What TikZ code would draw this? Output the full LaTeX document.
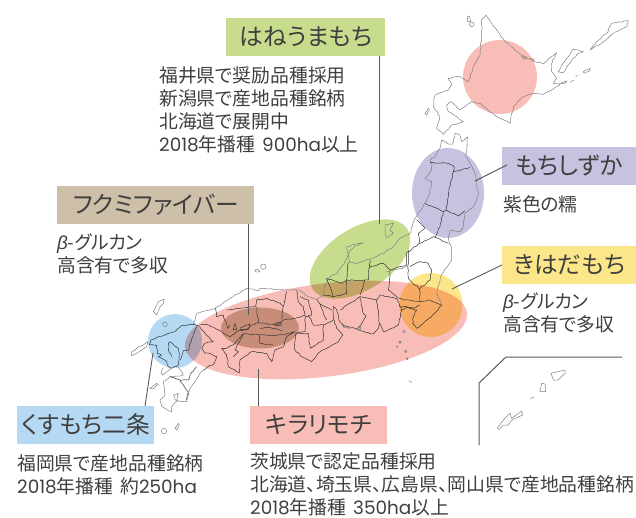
\documentclass[tikz,border=0pt]{standalone}
\usepackage{fontspec}
\setmainfont[RawFeature=+palt]{Noto Sans CJK JP}
\newfontfamily\latinpart{Poppins}
\newfontfamily\betapart{Liberation Sans}
\usetikzlibrary{shapes.geometric, positioning, decorations.pathmorphing}
\definecolor{inkText}{HTML}{3F3F3F}
\definecolor{inkLeader}{HTML}{5A5A5A}
\definecolor{kirariPink}{HTML}{F9BDB8}
\definecolor{hanePink}{HTML}{F9BDB8}
\definecolor{haneGreen}{HTML}{C7DC8C}
\definecolor{mochiPurple}{HTML}{C6C3E0}
\definecolor{kihadaYellow}{HTML}{FCE68A}
\definecolor{kusuBlue}{HTML}{B5D9F3}
\definecolor{fukumiTan}{HTML}{CDBFA8}
\newcommand{\lat}[1]{{\latinpart\fontsize{18.4}{23}\selectfont #1}}
\newcommand{\glucan}{{\betapart\itshape β}-グルカン}
\tikzset{
    namebox/.style={rectangle, anchor=north west, inner sep=0pt, minimum height=37.5pt, text=inkText,
        font=\fontsize{23.7}{26}\selectfont},
    note/.style={anchor=north west, inner sep=0pt, align=left, text=inkText,
        font=\fontsize{18.8}{23}\selectfont},
    area/.style={ellipse, inner sep=0pt},
    leader/.style={draw=inkLeader, line width=0.9pt},
    rough/.style={decorate, decoration={random steps, segment length=2.6pt, amplitude=0.55pt}},
    isle/.style={draw=black!50, line width=0.5pt},
    coast/.style={isle, line join=round, rough},
    border/.style={draw=black!80, line width=0.5pt, line join=round, rough},
    zoomMain/.style={shift={(120,200)}, scale=0.33333},
    zoomNorth/.style={shift={(380,0)}, scale=0.33333},
    zoomKyushu/.style={shift={(125,285)}, scale=0.33333},
    zoomSouth/.style={shift={(440,340)}, scale=0.33333}
}
\begin{document}
\begin{tikzpicture}[x=1pt, y=-1pt]
    \pgfmathsetseed{7}
    \useasboundingbox (0,0) rectangle (636,518);

    % growing areas
    \begin{scope}[blend mode=multiply]
        \node[area, fill=hanePink, minimum width=74pt, minimum height=74pt] (areaHokkaido) at (500,77) {};
        \node[area, fill=mochiPurple, minimum width=72pt, minimum height=90pt] (areaTohoku) at (448,193) {};
        \node[area, fill=kirariPink, minimum width=284pt, minimum height=93pt, rotate=7] (areaKirari) at (326,330) {};
        \node[area, fill=haneGreen, minimum width=112pt, minimum height=62pt, rotate=32] (areaHane) at (360,259) {};
        \node[area, fill=kusuBlue, minimum width=54pt, minimum height=54pt] (areaKusu) at (175,341) {};
        \node[area, fill=fukumiTan, minimum width=78pt, minimum height=41pt] (areaFukumi) at (260,328) {};
        \node[area, fill=kihadaYellow, minimum width=63pt, minimum height=64pt] (areaKihada) at (431,305) {};
    \end{scope}

    % Hokkaido and Tohoku
    \begin{scope}[zoomNorth]
        \draw[coast] (305,60) -- (318,45) -- (330,65) -- (350,90) -- (375,125) -- (405,150) -- (440,175) -- (490,192)
            -- (515,170) -- (530,158) -- (515,190) -- (515,215) -- (530,235) -- (520,250) -- (540,255) -- (515,270)
            -- (490,283) -- (460,280) -- (430,290) -- (400,320) -- (390,370) -- (350,350) -- (300,310) -- (275,305)
            -- (240,330) -- (215,305) -- (200,315) -- (205,335) -- (250,365) -- (215,375) -- (190,403) -- (170,385)
            -- (180,350) -- (160,320) -- (165,285) -- (205,270) -- (215,255) -- (205,235) -- (240,230) -- (265,245)
            -- (285,190) -- (300,165) -- (305,100) -- cycle;
        \draw[coast] (630,150) -- (650,125) -- (680,100) -- (695,70) -- (745,62) -- (740,80) -- (700,100) -- (670,125) -- cycle;
        \draw[coast] (535,215) -- (545,195) -- (565,170) -- (580,148) -- (610,155) -- (595,160) -- (575,180) -- (550,218) -- cycle;
        \draw[isle] (610,215) -- (630,205) -- (628,213) -- (612,220) -- cycle;
        \draw[isle] (540,250) -- (560,243) -- (555,250) -- cycle;
        \draw[isle] (570,247) -- (582,240);
        \draw[isle] (587,230) -- (593,226);
        \draw[isle] (262,50) -- (268,48) -- (272,65) -- (263,65) -- cycle;
        \draw[isle] (275,73) circle (7);
        \draw[isle] (135,340) -- (145,325) -- (148,330) -- (140,345) -- cycle;
        \draw[isle] (425,170) -- (440,172) -- (435,178) -- cycle;
        \draw[isle] (450,175) -- (462,178) -- (458,185);
        \draw[coast] (90,700) -- (105,655) -- (135,610) -- (150,580) -- (155,545) -- (135,535) -- (155,510) -- (155,490)
            -- (150,480) -- (165,470) -- (180,445) -- (185,420) -- (205,432) -- (218,432) -- (225,400) -- (240,405)
            -- (245,425) -- (262,410) -- (258,470) -- (270,490) -- (285,520) -- (295,580) -- (290,600) -- (280,620)
            -- (255,640) -- (250,680) -- (240,695) -- (210,690) -- (205,715) -- (215,750);
        \draw[border] (150,488) -- (205,490) -- (222,500) -- (220,515) -- (270,502);
        \draw[border] (220,515) -- (205,580) -- (198,630);
        \draw[border] (135,610) -- (190,635) -- (198,630) -- (235,648) -- (255,632);
        \draw[border] (190,635) -- (180,680) -- (165,712);
    \end{scope}

    % Honshu and Shikoku
    \begin{scope}[zoomMain]
        \draw[coast] (870,100) -- (840,115) -- (820,140) -- (790,160) -- (750,177) -- (710,190) -- (690,187) -- (680,140)
            -- (730,128) -- (705,138) -- (692,150) -- (675,185) -- (650,220) -- (630,230) -- (615,255) -- (610,285)
            -- (590,298) -- (565,290) -- (535,270) -- (500,270) -- (420,265) -- (415,272) -- (380,265) -- (330,295)
            -- (285,325) -- (230,340) -- (220,372);
        \draw[border] (240,375) -- (260,373) -- (305,395) -- (320,405) -- (330,410) -- (350,395) -- (385,385)
            -- (395,375) -- (415,368) -- (470,375) -- (490,360) -- (525,355) -- (555,345) -- (555,395) -- (528,400)
            -- (522,430) -- (525,450) -- (545,470) -- (575,485) -- (600,455) -- (620,445) -- (655,425) -- (668,405)
            -- (650,385) -- (640,355) -- (640,320) -- (650,330) -- (660,365) -- (672,378) -- (705,385) -- (720,392)
            -- (760,402) -- (775,385) -- (778,370) -- (790,395) -- (815,385) -- (835,375) -- (840,355) -- (845,330)
            -- (860,322) -- (890,330) -- (880,350) -- (878,370) -- (890,385) -- (935,350) -- (965,316);
        \draw[coast] (965,316) -- (950,280) -- (965,222) -- (995,180) -- (995,150);
        \draw[border] (320,445) -- (345,430) -- (370,402) -- (420,405) -- (490,405) -- (525,395) -- (500,410) -- (490,440)
            -- (465,450) -- (455,485) -- (440,460) -- (395,455) -- (360,480) -- (358,518) -- (325,500) -- (320,465) -- (305,445) -- cycle;
        \draw[border] (420,405) -- (420,430) -- (460,435);
        \draw[border] (420,385) -- (450,382) -- (485,392);
        \draw[border] (370,402) -- (345,450) -- (355,455) -- (340,470);
        \draw[border] (285,325) -- (290,350) -- (310,345) -- (322,385) -- (330,375);
        \draw[border] (320,330) -- (350,325) -- (405,320) -- (410,300) -- (440,295) -- (480,310) -- (490,320) -- (500,275);
        \draw[border] (410,320) -- (415,368);
        \draw[border] (490,320) -- (485,358);
        \draw[border] (530,272) -- (535,305) -- (550,320) -- (555,345);
        \draw[border] (540,290) -- (565,300) -- (575,345) -- (558,350);
        \draw[border] (565,345) -- (580,375) -- (610,375) -- (610,420) -- (570,445) -- (565,400) -- (528,400);
        \draw[border] (610,375) -- (640,360);
        \draw[border] (590,298) -- (600,312) -- (635,330);
        \draw[border] (600,312) -- (610,340) -- (620,360);
        \draw[border] (610,285) -- (640,290) -- (620,235) -- (665,250) -- (680,240) -- (685,187);
        \draw[border] (640,290) -- (680,280) -- (680,240) -- (745,240) -- (750,180);
        \draw[border] (750,200) -- (790,190) -- (810,210) -- (860,195) -- (858,160) -- (900,130) -- (895,100) -- (915,85) -- (890,60);
        \draw[border] (900,130) -- (940,110) -- (985,130);
        \draw[border] (720,285) -- (735,240);
        \draw[border] (660,330) -- (720,290) -- (730,340) -- (738,348) -- (715,385);
        \draw[border] (720,290) -- (770,300) -- (780,285) -- (830,295) -- (845,330);
        \draw[border] (810,212) -- (808,240) -- (805,270) -- (830,290);
        \draw[border] (870,200) -- (900,185) -- (925,190) -- (935,210) -- (930,240) -- (900,265) -- (900,305);
        \draw[border] (865,150) -- (865,235) -- (885,255) -- (900,268);
        \draw[border] (830,290) -- (850,300) -- (900,305) -- (930,300) -- (965,316);
        \draw[border] (838,320) -- (860,320) -- (880,325) -- (900,315);
        \draw[border] (770,300) -- (775,340) -- (778,370);
        \draw[coast] (800,215) -- (865,200);
        \draw[isle] (795,75) -- (820,70) -- (810,90) -- (820,100) -- (800,113) -- (795,100) -- cycle;
        \draw[border] (345,370) -- (340,390) -- (350,388) -- (345,372);
        \draw[border] (360,385) -- (390,372) -- (385,388) -- (365,388) -- cycle;
        \draw[isle, black!80] (465,370) -- (482,366) -- (484,375) -- (468,378) -- cycle;
        \draw[isle] (430,200) circle (8);
        \draw[isle] (404,210) -- (415,208) -- (420,216) -- (408,216) -- cycle;
        \draw[isle] (852,395) circle (4);
        \draw[isle, fill=black!55] (840,427) circle (3);
        \draw[isle, fill=black!55] (831,440) circle (2);
        \draw[isle] (857,454) circle (4);
        \draw[isle, fill=black!55] (862,476) circle (2.5);
        \draw[isle] (867,542) -- (875,548);
        \draw[isle] (665,370) -- (690,385) -- (670,382) -- cycle;
        \draw[isle] (710,388) -- (722,380) -- (722,390) -- cycle;
    \end{scope}

    % Kyushu and islands
    \begin{scope}[zoomKyushu]
        \draw[border] (170,122) -- (150,140) -- (130,145) -- (115,152) -- (100,155) -- (78,165) -- (73,180) -- (95,180)
            -- (97,205) -- (110,210) -- (100,215) -- (125,230) -- (130,245) -- (140,250) -- (160,240) -- (163,205)
            -- (160,190) -- (135,170) -- (130,175) -- (130,195) -- (140,215);
        \draw[coast] (115,248) -- (108,265) -- (115,270) -- (140,250);
        \draw[coast] (160,245) -- (175,270) -- (135,275) -- (115,290) -- (120,330) -- (105,345) -- (110,365) -- (140,380)
            -- (140,365) -- (155,350) -- (145,330) -- (160,325) -- (155,345) -- (170,350) -- (185,350) -- (195,310)
            -- (215,280) -- (235,255);
        \draw[border] (170,122) -- (205,118) -- (220,122) -- (250,155) -- (265,170) -- (240,175) -- (230,190) -- (240,205)
            -- (255,205) -- (275,215) -- (268,235) -- (235,255);
        \draw[border] (215,125) -- (195,175) -- (190,195) -- (175,197) -- (165,225);
        \draw[border] (135,275) -- (165,285) -- (190,285) -- (195,270) -- (215,245);
        \draw[border] (165,285) -- (190,320) -- (185,345);
        \draw[isle] (85,80) -- (100,50) -- (118,42) -- (115,55) -- (105,65) -- (95,90) -- cycle;
        \draw[isle] (120,118) circle (7);
        \draw[coast] (20,200) -- (30,195) -- (40,185) -- (55,180) -- (68,170) -- (65,185) -- (50,195) -- (35,205) -- (20,212) -- cycle;
        \draw[isle] (75,310) -- (95,295) -- (98,298) -- (85,312) -- cycle;
        \draw[isle] (117,438) circle (8);
        \draw[isle] (150,430) -- (160,415) -- (163,420) -- (155,435) -- cycle;
    \end{scope}

    % Okinawa inset
    \begin{scope}[zoomSouth]
        \draw[isle] (172,265) -- (190,240) -- (210,220) -- (215,235) -- (245,213) -- (248,225) -- (215,240) -- (205,255) -- (190,255) -- (178,268) -- cycle;
        \draw[isle] (300,155) -- (305,130) -- (315,132) -- (317,155) -- cycle;
        \draw[isle] (270,175) -- (282,172);
        \draw[isle] (333,100) -- (375,90) -- (375,100) -- (355,120) -- (340,120) -- cycle;
    \end{scope}
    \coordinate (insetEnd) at (622,357);
    \coordinate (insetCorner) at (506,357);
    \coordinate (insetBend) at (479,383);
    \coordinate (insetFoot) at (479,445);
    \draw[draw=black!65, line width=1pt] (insetEnd) -- (insetCorner) -- (insetBend) -- (insetFoot);

    % name boxes
    \node[namebox, fill=haneGreen, minimum width=159pt] (hane) at (226,18) {はねうまもち};
    \node[namebox, fill=fukumiTan, minimum width=197pt] (fukumi) at (57,186) {フクミファイバー};
    \node[namebox, fill=mochiPurple, minimum width=134pt] (mochi) at (502,147) {もちしずか};
    \node[namebox, fill=kihadaYellow, minimum width=134pt] (kihada) at (502,246) {きはだもち};
    \node[namebox, fill=kusuBlue, minimum width=137pt] (kusu) at (17,406) {くすもち二条};
    \node[namebox, fill=kirariPink, minimum width=137pt] (kirari) at (250,406) {キラリモチ};

    % notes
    \node[note] (haneNote) at (159,67) {福井県で奨励品種採用\\新潟県で産地品種銘柄\\北海道で展開中\\\lat{2018}年播種\hspace{7pt}\lat{900ha}以上};
    \node[note] (fukumiNote) at (57,234) {\glucan\\高含有で多収};
    \node[note] (mochiNote) at (503,195) {紫色の糯};
    \node[note] (kihadaNote) at (503,293) {\glucan\\高含有で多収};
    \node[note] (kusuNote) at (17,455) {福岡県で産地品種銘柄\\\lat{2018}年播種\hspace{7pt}約\lat{250ha}};
    \node[note] (kirariNote) at (250,452.5) {茨城県で認定品種採用\\北海道、埼玉県、広島県、岡山県で産地品種銘柄\\\lat{2018}年播種\hspace{7pt}\lat{350ha}以上};

    % leaders
    \coordinate (haneEnd) at (379,224);
    \coordinate (fukumiEnd) at (248,315);
    \coordinate (mochiEnd) at (475,181);
    \coordinate (mochiStart) at (507,165);
    \coordinate (kihadaEnd) at (452,289);
    \coordinate (kusuEnd) at (153,353);
    \coordinate (kusuStart) at (145,406);
    \coordinate (kirariEnd) at (258,369);
    \draw[leader] (hane.south -| haneEnd) -- (haneEnd);
    \draw[leader] (fukumi.south -| fukumiEnd) -- (fukumiEnd);
    \draw[leader] (mochiStart) -- (mochiEnd);
    \draw[leader] (kihada.west) -- (kihadaEnd);
    \draw[leader] (kusuStart) -- (kusuEnd);
    \draw[leader] (kirari.north -| kirariEnd) -- (kirariEnd);
\end{tikzpicture}
\end{document}
